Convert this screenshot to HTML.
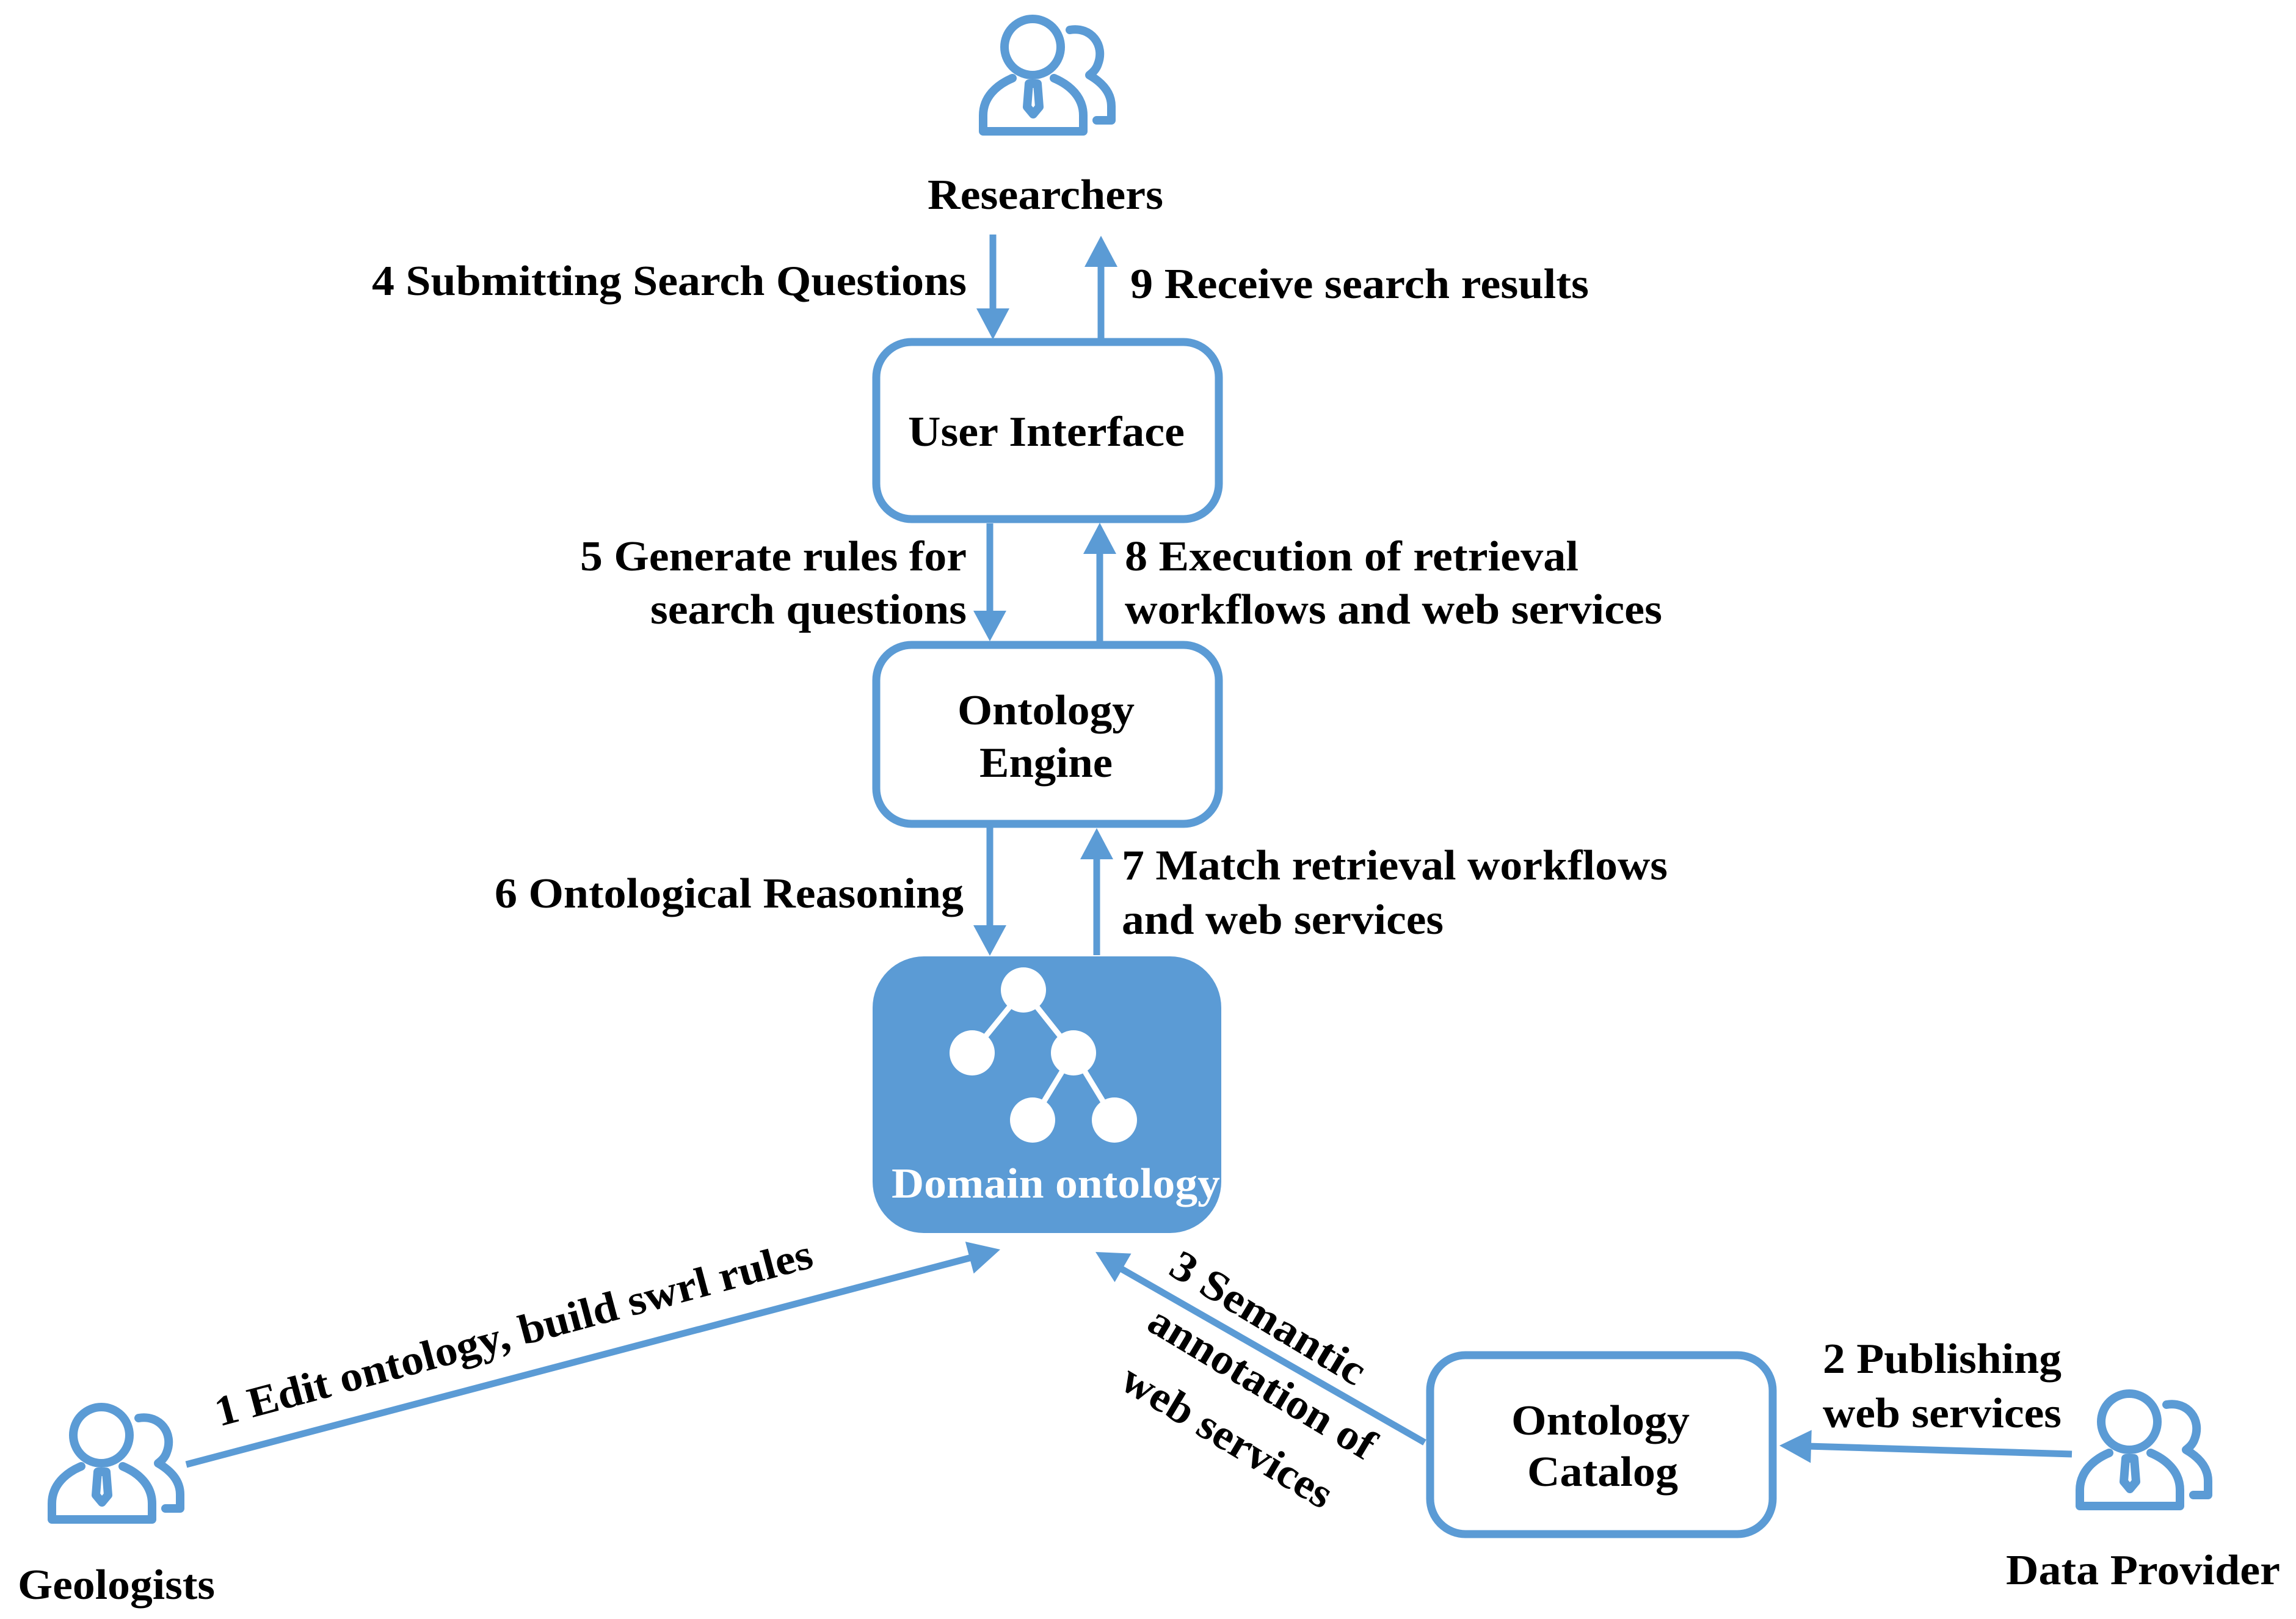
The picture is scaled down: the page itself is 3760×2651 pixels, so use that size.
<!DOCTYPE html>
<html><head><meta charset="utf-8"><style>
html,body{margin:0;padding:0;background:#fff;}
svg{display:block;}
text{font-family:"Liberation Serif","DejaVu Serif","Times New Roman",serif;font-weight:bold;font-size:70px;fill:#000;}
</style></head><body>
<svg width="3760" height="2651" viewBox="0 0 3760 2651" xmlns="http://www.w3.org/2000/svg" font-family="Liberation Serif, DejaVu Serif, serif" font-weight="bold" font-size="70">
<defs>
<g id="person" fill="none" stroke="#5b9bd5" stroke-width="14" stroke-linejoin="round" stroke-linecap="round">
  <circle cx="89" cy="48" r="46"/>
  <path d="M56,99 C30,110 8,130 8,160 L8,186 L172,186 L172,160 C172,130 150,110 124,99"/>
  <polygon points="83,108 97,108 100,146 90,158 80,146"/>
  <path d="M150,20 C185,14 208,45 196,76 C193,85 187,90 182,94 C206,108 218,125 218,145 L218,168 L194,168"/>
</g>
</defs>

<use href="#person" transform="translate(1602,29)"/>
<use href="#person" transform="translate(77,2302)"/>
<use href="#person" transform="translate(3398,2280)"/>

<rect x="1435" y="560" width="561" height="290" rx="58" fill="#fff" stroke="#5b9bd5" stroke-width="13"/>
<rect x="1435" y="1056" width="561" height="293" rx="58" fill="#fff" stroke="#5b9bd5" stroke-width="13"/>
<rect x="1429" y="1566" width="571" height="453" rx="84" fill="#5b9bd5"/>
<rect x="2342" y="2219" width="561" height="293" rx="58" fill="#fff" stroke="#5b9bd5" stroke-width="13"/>

<g stroke="#fff" stroke-width="9" fill="#fff">
  <line x1="1676" y1="1621" x2="1592" y2="1724"/>
  <line x1="1676" y1="1621" x2="1758" y2="1724"/>
  <line x1="1758" y1="1724" x2="1691" y2="1834"/>
  <line x1="1758" y1="1724" x2="1825" y2="1834"/>
  <circle cx="1676" cy="1621" r="37" stroke="none"/>
  <circle cx="1592" cy="1724" r="37" stroke="none"/>
  <circle cx="1758" cy="1724" r="37" stroke="none"/>
  <circle cx="1691" cy="1834" r="37" stroke="none"/>
  <circle cx="1825" cy="1834" r="37" stroke="none"/>
</g>

<g stroke="#5b9bd5" stroke-width="11" fill="none">
  <line x1="1626" y1="384" x2="1626" y2="510"/>
  <line x1="1803" y1="430" x2="1803" y2="556"/>
  <line x1="1621" y1="857" x2="1621" y2="1005"/>
  <line x1="1801" y1="900" x2="1801" y2="1050"/>
  <line x1="1621" y1="1355" x2="1621" y2="1520"/>
  <line x1="1796" y1="1400" x2="1796" y2="1564"/>
  <line x1="305" y1="2398" x2="1595" y2="2058"/>
  <line x1="2333" y1="2362" x2="1830" y2="2074"/>
  <line x1="3393" y1="2381" x2="2960" y2="2368"/>
</g>
<g fill="#5b9bd5">
  <polygon points="1599,505 1653,505 1626,556"/>
  <polygon points="1776,437 1830,437 1803,386"/>
  <polygon points="1594,1000 1648,1000 1621,1050"/>
  <polygon points="1774,907 1828,907 1801,856"/>
  <polygon points="1594,1515 1648,1515 1621,1565"/>
  <polygon points="1769,1407 1823,1407 1796,1356"/>
  <g transform="translate(1638,2046) rotate(-14.8)"><polygon points="0,0 -52,-27 -52,27"/></g>
  <g transform="translate(1794,2050) rotate(210)"><polygon points="0,0 -52,-27 -52,27"/></g>
  <g transform="translate(2914,2367) rotate(181.7)"><polygon points="0,0 -52,-27 -52,27"/></g>
</g>

<text x="1712" y="342" text-anchor="middle" textLength="386" lengthAdjust="spacingAndGlyphs">Researchers</text>
<text x="609" y="483" textLength="974" lengthAdjust="spacingAndGlyphs">4 Submitting Search Questions</text>
<text x="1851" y="488" textLength="751" lengthAdjust="spacingAndGlyphs">9 Receive search results</text>
<text x="1487" y="730" textLength="453" lengthAdjust="spacingAndGlyphs">User Interface</text>
<text x="1583" y="934" text-anchor="end" textLength="633" lengthAdjust="spacingAndGlyphs">5 Generate rules for</text>
<text x="1583" y="1021" text-anchor="end" textLength="518" lengthAdjust="spacingAndGlyphs">search questions</text>
<text x="1842" y="934" textLength="743" lengthAdjust="spacingAndGlyphs">8 Execution of retrieval</text>
<text x="1842" y="1021" textLength="880" lengthAdjust="spacingAndGlyphs">workflows and web services</text>
<text x="1568" y="1186" textLength="290" lengthAdjust="spacingAndGlyphs">Ontology</text>
<text x="1604" y="1272" textLength="218" lengthAdjust="spacingAndGlyphs">Engine</text>
<text x="810" y="1486" textLength="768" lengthAdjust="spacingAndGlyphs">6 Ontological Reasoning</text>
<text x="1837" y="1440" textLength="894" lengthAdjust="spacingAndGlyphs">7 Match retrieval workflows</text>
<text x="1837" y="1529" textLength="527" lengthAdjust="spacingAndGlyphs">and web services</text>
<text x="1460" y="1961" textLength="538" lengthAdjust="spacingAndGlyphs" style="fill:#fff">Domain ontology</text>
<text x="2475" y="2349" textLength="292" lengthAdjust="spacingAndGlyphs">Ontology</text>
<text x="2501" y="2433" textLength="247" lengthAdjust="spacingAndGlyphs">Catalog</text>
<text x="2985" y="2248" textLength="391" lengthAdjust="spacingAndGlyphs">2 Publishing</text>
<text x="2985" y="2337" textLength="391" lengthAdjust="spacingAndGlyphs">web services</text>
<text x="29" y="2618" textLength="323" lengthAdjust="spacingAndGlyphs">Geologists</text>
<text x="3285" y="2594" textLength="449" lengthAdjust="spacingAndGlyphs">Data Provider</text>
<text transform="translate(847,2205) rotate(-15)" text-anchor="middle" textLength="1010" lengthAdjust="spacingAndGlyphs">1 Edit ontology, build swrl rules</text>
<text transform="translate(2077,2158) rotate(31)" text-anchor="middle" dy="23" textLength="360" lengthAdjust="spacingAndGlyphs">3 Semantic</text>
<text transform="translate(2067,2264) rotate(31)" text-anchor="middle" dy="23" textLength="420" lengthAdjust="spacingAndGlyphs">annotation of</text>
<text transform="translate(2010,2352) rotate(31)" text-anchor="middle" dy="23" textLength="390" lengthAdjust="spacingAndGlyphs">web services</text>
</svg>
</body></html>
